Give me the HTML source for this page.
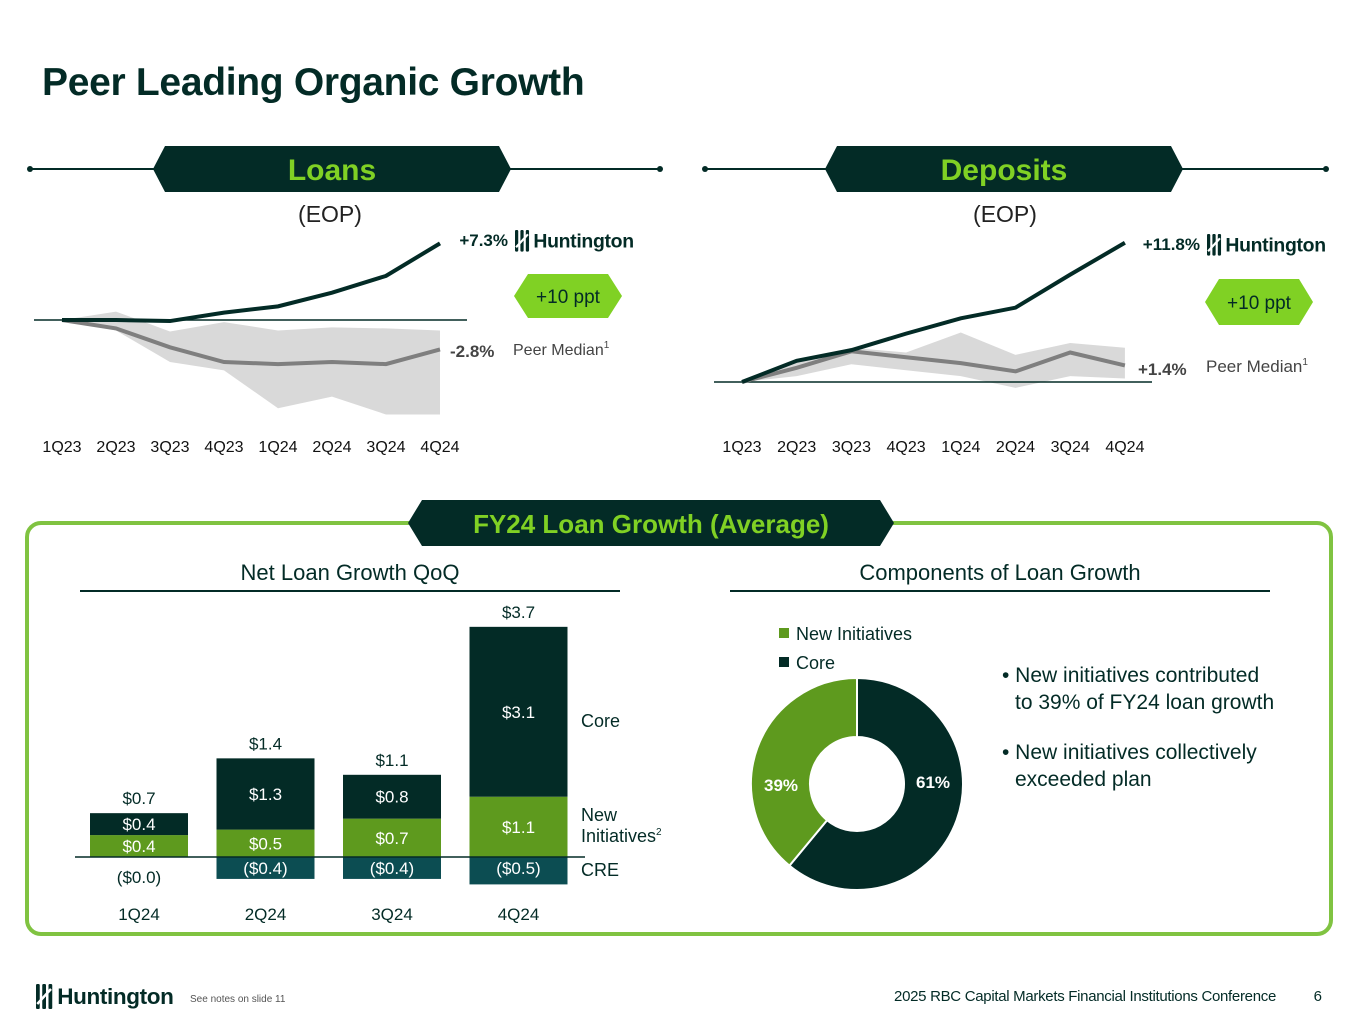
<!DOCTYPE html>
<html><head><meta charset="utf-8"><style>
body{margin:0;width:1365px;height:1024px;background:#fff;font-family:"Liberation Sans",sans-serif;overflow:hidden;position:relative}
svg{position:absolute;left:0;top:0}
</style></head><body>
<svg id="s" width="1365" height="1024" viewBox="0 0 1365 1024"></svg>
<script>
// Loans (EOP) data, % change
const quarters=["1Q23","2Q23","3Q23","4Q23","1Q24","2Q24","3Q24","4Q24"];
const loansHunt=[0,0,-0.1,0.7,1.3,2.6,4.2,7.3];
const loansPeer=[0,-0.8,-2.6,-4.0,-4.2,-4.0,-4.2,-2.8];
const loansBandHi=[0,0.8,-1.1,-0.2,-1.0,-0.7,-0.8,-1.0];
const loansBandLo=[0,-1.0,-4.0,-4.8,-8.4,-7.3,-9.0,-9.0];
// Deposits (EOP)
const depHunt=[0,1.8,2.7,4.1,5.4,6.3,9.1,11.8];
const depPeer=[0,1.2,2.6,2.1,1.6,0.9,2.5,1.4];
const depBandHi=[0,1.7,2.9,2.5,4.2,2.3,3.3,2.9];
const depBandLo=[0,0.5,1.5,1.0,0.5,-0.5,0.5,0.3];
// Net loan growth QoQ ($B)
const barCats=["1Q24","2Q24","3Q24","4Q24"];
const barNew=[0.4,0.5,0.7,1.1];
const barCore=[0.4,1.3,0.8,3.1];
const barCRE=[-0.0,-0.4,-0.4,-0.5];
const barTotals=["$0.7","$1.4","$1.1","$3.7"];
const newLabels=["$0.4","$0.5","$0.7","$1.1"];
const coreLabels=["$0.4","$1.3","$0.8","$3.1"];
const creLabels=["($0.0)","($0.4)","($0.4)","($0.5)"];
// Components
const donutVals=[61,39];
const donutLabels=["61%","39%"];

const NS="http://www.w3.org/2000/svg";
const S=document.getElementById('s');
function mk(tag,at,parent){const e=document.createElementNS(NS,tag);for(const k in at)e.setAttribute(k,at[k]);(parent||S).appendChild(e);return e;}
function tx(x,y,str,st,name){const e=mk('text',{x:x,y:y});e.textContent=str;e.setAttribute('style',st);


return e;}
function sup(e,str){const t=mk('tspan',{dy:-7,style:"font-size:10px"},e);t.textContent=str;}
const DK="#032b26",LG="#80d124",MG="#5e9a1e",TL="#0c4d52";
const F="font-family:'Liberation Sans',sans-serif;";

tx(42,95,"Peer Leading Organic Growth",F+"font-size:39px;font-weight:bold;fill:"+DK+";letter-spacing:-0.3px","page-title");

function banner(cx,y,w,label,l1,l2,name){
  mk('line',{x1:l1,y1:y,x2:l2,y2:y,stroke:DK,'stroke-width':2});
  mk('circle',{cx:l1,cy:y,r:3,fill:DK});mk('circle',{cx:l2,cy:y,r:3,fill:DK});
  const h=46,x0=cx-w/2,x1=cx+w/2,t=y-h/2,b=y+h/2;
  const p=mk('path',{d:`M${x0+12},${t} L${x1-12},${t} L${x1},${y} L${x1-12},${b} L${x0+12},${b} L${x0},${y} Z`,fill:DK});
  
  
  tx(cx,y+11,label,F+"font-size:30px;font-weight:bold;fill:"+LG+";text-anchor:middle",name+'-title');
}
banner(332,169,358,"Loans",30,660,'loans');
banner(1004,169,358,"Deposits",705,1326,'deposits');
tx(330,222,"(EOP)",F+"font-size:23px;fill:#222;text-anchor:middle",'loans-eop');
tx(1005,222,"(EOP)",F+"font-size:23px;fill:#222;text-anchor:middle",'deposits-eop');

function lineChart(xs0,dx,base,scale,hunt,peer,hi,lo,bx1,bx2,name){
  const X=i=>xs0+i*dx, Y=v=>base-v*scale;
  let d="M"+hi.map((v,i)=>X(i)+","+Y(v)).join(" L");
  for(let i=lo.length-1;i>=0;i--)d+=" L"+X(i)+","+Y(lo[i]);
  const band=mk('path',{d:d+"Z",fill:"#d9d9d9"});
  
  
  mk('line',{x1:bx1,y1:base,x2:bx2,y2:base,stroke:DK,'stroke-width':1.5});
  const pl=mk('polyline',{points:peer.map((v,i)=>X(i)+","+Y(v)).join(" "),fill:"none",stroke:"#7f7f7f",'stroke-width':4});
  
  
  const hl=mk('polyline',{points:hunt.map((v,i)=>X(i)+","+Y(v)).join(" "),fill:"none",stroke:DK,'stroke-width':4});
  
  
  quarters.forEach((q,i)=>tx(X(i),452,q,F+"font-size:16px;fill:#111;text-anchor:middle",name+'-x-label'));
  return {X,Y};
}
lineChart(62,54,320,10.5,loansHunt,loansPeer,loansBandHi,loansBandLo,34,467,'loans');
lineChart(742,54.7,382,11.8,depHunt,depPeer,depBandHi,depBandLo,714,1152,'deposits');

function logo(x,y,s,name){
  const g=mk('g',{transform:`translate(${x},${y}) scale(${s})`});
  
  
  [0,5,10].forEach(o=>mk('rect',{x:o,y:0,width:3,height:20,rx:1,fill:DK},g));
  mk('line',{x1:1,y1:16,x2:12,y2:4,stroke:"#fff",'stroke-width':2},g);
  const t=mk('text',{x:17,y:16,style:F+"font-size:18px;font-weight:bold;fill:"+DK+";letter-spacing:-0.3px"},g);t.textContent="Huntington";
}
tx(508,246,"+7.3%",F+"font-size:17px;font-weight:bold;fill:"+DK+";text-anchor:end",'loans-huntington-value');
logo(515,230,1.08,'loans-huntington-logo');
tx(1200,250,"+11.8%",F+"font-size:17px;font-weight:bold;fill:"+DK+";text-anchor:end",'deposits-huntington-value');
logo(1207,234,1.08,'deposits-huntington-logo');
tx(450,357,"-2.8%",F+"font-size:17px;font-weight:bold;fill:#444",'loans-peer-value');
sup(tx(513,355,"Peer Median",F+"font-size:16px;fill:#444",'loans-peer-label'),"1");
tx(1138,375,"+1.4%",F+"font-size:17px;font-weight:bold;fill:#444",'deposits-peer-value');
sup(tx(1206,372,"Peer Median",F+"font-size:17px;fill:#444",'deposits-peer-label'),"1");

function hexBadge(cx,cy,w,h,label,name){
  const x0=cx-w/2,x1=cx+w/2,t=cy-h/2,b=cy+h/2;
  const p=mk('path',{d:`M${x0+14},${t} L${x1-14},${t} L${x1},${cy} L${x1-14},${b} L${x0+14},${b} L${x0},${cy} Z`,fill:LG,'stroke-linejoin':'round'});
  
  
  tx(cx,cy+7,label,F+"font-size:19px;fill:"+DK+";text-anchor:middle",name+'-text');
}
hexBadge(568,296,108,44,"+10 ppt",'loans-ppt-badge');
hexBadge(1259,302,108,46,"+10 ppt",'deposits-ppt-badge');

// bottom panel
const panel=mk('rect',{x:27,y:523,width:1304,height:411,rx:14,fill:"none",stroke:"#80c341",'stroke-width':4});


const bb=mk('path',{d:"M422,500 L880,500 L894,523 L880,546 L422,546 L408,523 Z",fill:DK});


tx(651,533,"FY24 Loan Growth (Average)",F+"font-size:26px;font-weight:bold;fill:"+LG+";text-anchor:middle",'fy24-title');

tx(350,580,"Net Loan Growth QoQ",F+"font-size:22px;fill:"+DK+";text-anchor:middle",'bar-chart-title');
mk('line',{x1:80,y1:591,x2:620,y2:591,stroke:DK,'stroke-width':2});
tx(1000,580,"Components of Loan Growth",F+"font-size:22px;fill:"+DK+";text-anchor:middle",'donut-title');
mk('line',{x1:730,y1:591,x2:1270,y2:591,stroke:DK,'stroke-width':2});

// bars
const bBase=857,bScale=54.8,bX0=90,bDx=126.5,bW=98;
const BY=v=>bBase-v*bScale;
barCats.forEach((c,i)=>{
  const x=bX0+i*bDx,cx=x+bW/2;
  const n=mk('rect',{x:x,y:BY(barNew[i]),width:bW,height:barNew[i]*bScale,fill:MG});
  
  
  const co=mk('rect',{x:x,y:BY(barNew[i]+barCore[i]),width:bW,height:barCore[i]*bScale,fill:DK});
  
  
  const cr=mk('rect',{x:x,y:bBase,width:bW,height:-barCRE[i]*bScale,fill:TL});
  
  
  const wst=F+"font-size:17px;fill:#fff;text-anchor:middle";
  tx(cx,BY(barNew[i]/2)+6,newLabels[i],wst,'new-value-label');
  tx(cx,BY(barNew[i]+barCore[i]/2)+6,coreLabels[i],wst,'core-value-label');
  tx(cx,i==0?bBase+26:bBase+17,creLabels[i],F+"font-size:17px;text-anchor:middle;fill:"+(i==0?DK:"#fff"),'cre-value-label');
  tx(cx,BY(barNew[i]+barCore[i])-9,barTotals[i],F+"font-size:17px;fill:"+DK+";text-anchor:middle",'total-label');
  tx(cx,920,c,F+"font-size:17px;fill:"+DK+";text-anchor:middle",'bar-x-label');
});
mk('line',{x1:75,y1:bBase,x2:585,y2:bBase,stroke:DK,'stroke-width':1.5});
tx(581,727,"Core",F+"font-size:18px;fill:"+DK,'legend-core');
tx(581,821,"New",F+"font-size:18px;fill:"+DK,'legend-new');
sup(tx(581,842,"Initiatives",F+"font-size:18px;fill:"+DK,'legend-initiatives'),"2");
tx(581,876,"CRE",F+"font-size:18px;fill:"+DK,'legend-cre');

// donut
const dcx=857,dcy=784,R=106,r=47;
let a0=0;const tot=donutVals.reduce((a,b)=>a+b,0);const cols=[DK,MG];const nm=['donut-core','donut-new-initiatives'];
donutVals.forEach((v,i)=>{
  const a1=a0+v/tot*2*Math.PI;
  const P=(rad,a)=>[dcx+rad*Math.sin(a),dcy-rad*Math.cos(a)];
  const [x1,y1]=P(R,a0),[x2,y2]=P(R,a1),[x3,y3]=P(r,a1),[x4,y4]=P(r,a0);
  const lg=(a1-a0)>Math.PI?1:0;
  const p=mk('path',{d:`M${x1},${y1} A${R},${R} 0 ${lg} 1 ${x2},${y2} L${x3},${y3} A${r},${r} 0 ${lg} 0 ${x4},${y4}Z`,fill:cols[i],stroke:"#fff",'stroke-width':2});
  
  
  const am=(a0+a1)/2,side=Math.sin(am)>=0?1:-1;
  tx(dcx+side*76,dcy+(i==0?-2:1)+6,donutLabels[i],F+"font-size:17px;font-weight:bold;fill:#fff;text-anchor:middle",nm[i]+'-label');
  a0=a1;
});
mk('rect',{x:779,y:628,width:10,height:10,fill:MG});
tx(796,640,"New Initiatives",F+"font-size:18px;fill:"+DK,'donut-legend-new');
mk('rect',{x:779,y:657,width:10,height:10,fill:DK});
tx(796,669,"Core",F+"font-size:18px;fill:"+DK,'donut-legend-core');
const bst=F+"font-size:21px;fill:"+DK;
tx(1002,682,"• New initiatives contributed",bst,'bullet-1');
tx(1015,709,"to 39% of FY24 loan growth",bst,'bullet-1-cont');
tx(1002,759,"• New initiatives collectively",bst,'bullet-2');
tx(1015,786,"exceeded plan",bst,'bullet-2-cont');

// footer
logo(36,984,1.25,'footer-logo');
tx(190,1002,"See notes on slide 11",F+"font-size:10px;fill:#555",'footnote-link');
tx(1276,1001,"2025 RBC Capital Markets Financial Institutions Conference",F+"font-size:15px;fill:"+DK+";text-anchor:end;letter-spacing:-0.3px",'conference-name');
tx(1322,1001,"6",F+"font-size:15px;fill:"+DK+";text-anchor:end",'page-number');
</script>
</body></html>
